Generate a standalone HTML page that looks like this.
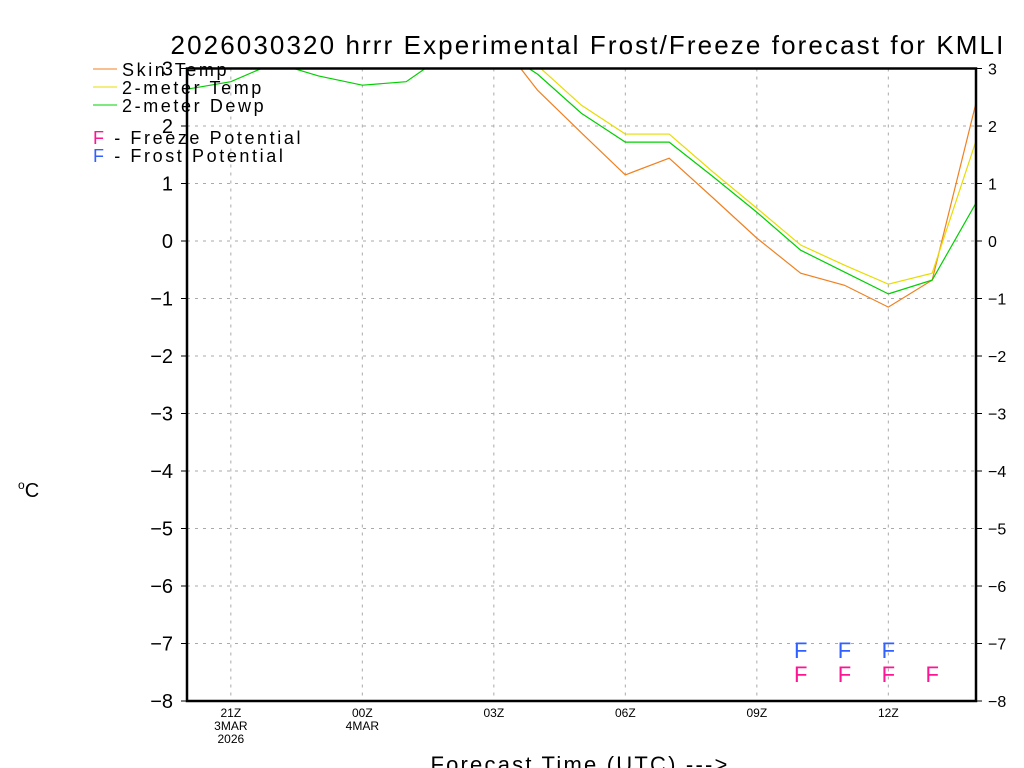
<!DOCTYPE html>
<html><head><meta charset="utf-8"><style>
body{margin:0;background:#fff;}
svg{display:block;font-family:"Liberation Sans",sans-serif;}
</style></head><body>
<svg id="chart" width="1024" height="768" viewBox="0 0 1024 768" xmlns="http://www.w3.org/2000/svg">
<rect width="1024" height="768" fill="#fff"/>
<text x="588" y="54" text-anchor="middle" font-size="26" letter-spacing="2.1">2026030320 hrrr Experimental Frost/Freeze forecast for KMLI</text>
<g id="grid"></g>
<g id="series"></g>
<g id="axes"></g>
<g id="flags"></g>
<text x="18" y="497" font-size="20"><tspan font-size="12" dy="-8">o</tspan><tspan dy="8">C</tspan></text>
<text x="580" y="772" text-anchor="middle" font-size="22" letter-spacing="2.2">Forecast Time (UTC) ---&gt;</text>
<g font-size="18" letter-spacing="2.6">
<line x1="93" y1="69" x2="117" y2="69" stroke="#f08020" stroke-width="1"/>
<text x="122" y="76">Skin Temp</text>
<line x1="93" y1="87" x2="117" y2="87" stroke="#e8dc00" stroke-width="1"/>
<text x="122" y="94">2-meter Temp</text>
<line x1="93" y1="105" x2="117" y2="105" stroke="#00d000" stroke-width="1"/>
<text x="122" y="112">2-meter Dewp</text>
<text x="93" y="144"><tspan fill="#ff1493">F</tspan> - Freeze Potential</text>
<text x="93" y="162"><tspan fill="#3060ff">F</tspan> - Frost Potential</text>
</g>
</svg>
<script>
const hours = [20,21,22,23,24,25,26,27,28,29,30,31,32,33,34,35,36,37,38];
const skinTemp = [3.6,3.6,3.7,3.6,3.5,3.5,3.6,3.6,2.62,1.88,1.15,1.44,0.75,0.05,-0.56,-0.77,-1.15,-0.68,2.4];
const temp2m = [3.8,3.8,3.9,3.8,3.7,3.7,3.8,3.8,3.05,2.36,1.86,1.86,1.2,0.57,-0.07,-0.42,-0.75,-0.56,1.74];
const dewp2m = [2.64,2.77,3.1,2.87,2.71,2.77,3.3,3.4,2.9,2.22,1.72,1.72,1.12,0.5,-0.16,-0.54,-0.92,-0.68,0.66];
const frostHours = [34,35,36];
const freezeHours = [34,35,36,37];
const yTicks = [3,2,1,0,-1,-2,-3,-4,-5,-6,-7,-8];
const xTickHours = [21,24,27,30,33,36];
const xTickLabels = ["21Z","00Z","03Z","06Z","09Z","12Z"];
const xSubLabels = [["3MAR","2026"],["4MAR"],[],[],[],[]];

const L=187,R=976,T=68.5,B=701;
const x=h=>L+(h-20)*(R-L)/18;
const y=v=>T+(3-v)*(B-T)/11;
const NS="http://www.w3.org/2000/svg";
function mk(tag,attrs,parent){const e=document.createElementNS(NS,tag);for(const k in attrs)e.setAttribute(k,attrs[k]);parent.appendChild(e);return e;}
const grid=document.getElementById('grid'),axes=document.getElementById('axes'),ser=document.getElementById('series'),flags=document.getElementById('flags');
yTicks.forEach(v=>{
  const g=mk('line',{x1:L,x2:R,y1:y(v),y2:y(v),stroke:'#aaa','stroke-dasharray':'3,5'},grid);
  
  
  mk('line',{x1:L-6,x2:L,y1:y(v),y2:y(v),stroke:'#000'},axes);
  mk('line',{x1:R,x2:R+6,y1:y(v),y2:y(v),stroke:'#000'},axes);
  const t=mk('text',{x:L-14,y:y(v)+7,'text-anchor':'end','font-size':20},axes);
  t.textContent=(v<0?'\u2212':'')+Math.abs(v);
  
  
  const t2=mk('text',{x:R+12,y:y(v)+6,'font-size':16},axes);
  t2.textContent=(v<0?'\u2212':'')+Math.abs(v);
  
  
});
xTickHours.forEach((h,i)=>{
  const g=mk('line',{x1:x(h),x2:x(h),y1:T,y2:B,stroke:'#aaa','stroke-dasharray':'3,5'},grid);
  
  
  const t=mk('text',{x:x(h),y:B+16,'text-anchor':'middle','font-size':12},axes);
  t.textContent=xTickLabels[i];
  
  
  xSubLabels[i].forEach((s,j)=>{
    const u=mk('text',{x:x(h),y:B+29+j*13,'text-anchor':'middle','font-size':12},axes);
    u.textContent=s;
    
    
  });
});
const frame=mk('rect',{x:L,y:T,width:R-L,height:B-T,fill:'none',stroke:'#000','stroke-width':2.5},axes);


mk('clipPath',{id:'clip'},ser);
mk('rect',{x:L,y:T,width:R-L,height:B-T},ser.lastChild);
[[skinTemp,'#f08020','skin-temp-line'],[temp2m,'#e8dc00','2m-temp-line'],[dewp2m,'#00d000','2m-dewp-line']].forEach(([d,c,n])=>{
  const p=mk('polyline',{points:d.map((v,i)=>x(hours[i])+','+y(v)).join(' '),fill:'none',stroke:c,'stroke-width':1.2,'clip-path':'url(#clip)'},ser);
  
  
});
frostHours.forEach(h=>{
  const t=mk('text',{x:x(h),y:658,'text-anchor':'middle','font-size':22,fill:'#3060ff'},flags);
  t.textContent='F';
  
  
});
freezeHours.forEach(h=>{
  const t=mk('text',{x:x(h),y:682,'text-anchor':'middle','font-size':22,fill:'#ff1493'},flags);
  t.textContent='F';
  
  
});
</script>
</body></html>
